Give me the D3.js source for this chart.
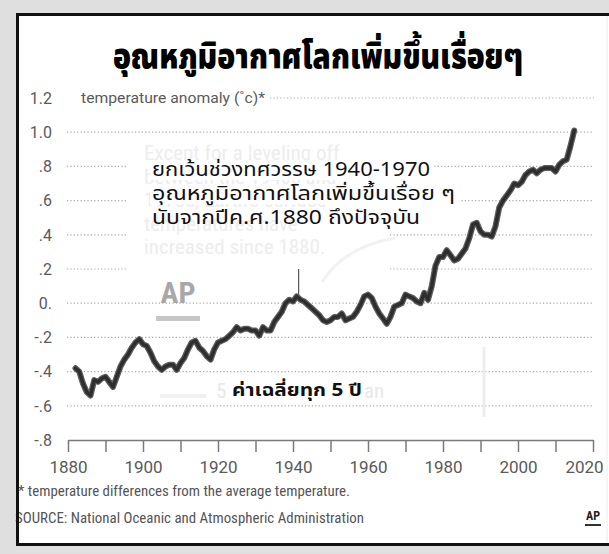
<!DOCTYPE html>
<html>
<head>
<meta charset="utf-8">
<script src="https://cdn.jsdelivr.net/npm/d3@7"></script>
<style>
  body { margin: 0; background: #dfdfdf; }
  svg { display: block; }
</style>
</head>
<body>
<div id="chart"></div>
<script>
// 5-year mean global temperature anomaly, one value per year from 1882
const startYear = 1882;
const anomaly = [
  -0.38, -0.40, -0.47, -0.52, -0.54, -0.45, -0.46, -0.44, -0.43, -0.46,
  -0.49, -0.43, -0.37, -0.33, -0.30, -0.26, -0.23, -0.21, -0.24, -0.25,
  -0.29, -0.34, -0.37, -0.39, -0.37, -0.36, -0.36, -0.39, -0.35, -0.32,
  -0.27, -0.23, -0.22, -0.26, -0.28, -0.31, -0.33, -0.27, -0.23, -0.22,
  -0.21, -0.19, -0.17, -0.14, -0.16, -0.15, -0.15, -0.16, -0.16, -0.19,
  -0.14, -0.16, -0.16, -0.11, -0.08, -0.05, 0.00, 0.02, 0.01, 0.04,
  0.02, 0.01, -0.01, -0.03, -0.05, -0.07, -0.10, -0.11, -0.10, -0.08,
  -0.08, -0.06, -0.10, -0.09, -0.08, -0.05, -0.01, 0.04, 0.05, 0.03,
  -0.02, -0.06, -0.09, -0.12, -0.08, -0.02, -0.01, 0.00, 0.05, 0.04,
  0.03, 0.01, 0.00, 0.06, 0.02, 0.10, 0.22, 0.27, 0.27, 0.31,
  0.28, 0.25, 0.26, 0.29, 0.32, 0.38, 0.46, 0.47, 0.42, 0.40,
  0.40, 0.39, 0.45, 0.56, 0.60, 0.63, 0.66, 0.70, 0.69, 0.71,
  0.75, 0.77, 0.78, 0.76, 0.78, 0.79, 0.79, 0.79, 0.77, 0.81,
  0.83, 0.84, 0.92, 1.01
];
const years = anomaly.map((d, i) => startYear + i);

const yTicks = [1.2, 1.0, 0.8, 0.6, 0.4, 0.2, 0, -0.2, -0.4, -0.6, -0.8];
const yTickLabels = ["1.2", "1.0", ".8", ".6", ".4", ".2", "0.", "-.2", "-.4", "-.6", "-.8"];
const xTicks = [1880, 1890, 1900, 1910, 1920, 1930, 1940, 1950, 1960, 1970, 1980, 1990, 2000, 2010, 2020];
const xTickLabels = ["1880", "", "1900", "", "1920", "", "1940", "", "1960", "", "1980", "", "2000", "", "2020"];

const titleText = "อุณหภูมิอากาศโลกเพิ่มขึ้นเรื่อยๆ";
const noteLines = ["ยกเว้นช่วงทศวรรษ 1940-1970", "อุณหภูมิอากาศโลกเพิ่มขึ้นเรื่อย ๆ", "นับจากปีค.ศ.1880 ถึงปัจจุบัน"];
const meanLabel = "ค่าเฉลี่ยทุก 5 ปี";
const ghostLines = ["Except for a leveling off", "between the 1940s and", "1970s, Earth's surface", "temperatures have", "increased since 1880."];
const unitLabel = "temperature anomaly (˚c)*";
const footnote = "* temperature differences from the average temperature.";
const source = "SOURCE: National Oceanic and Atmospheric Administration";
const peakYear = 1941.5;

const W = 609, H = 554;
const thai = "'Noto Sans Thai', 'Noto Sans Thai UI', Loma, Garuda, 'Tlwg Typo', Waree, Norasi, sans-serif";
const narrow = "'Liberation Sans Narrow', 'Roboto Condensed', 'Arial Narrow', Roboto, sans-serif";

const svg = d3.select("#chart").append("svg")
  .attr("width", W)
  .attr("height", H);

// page + frame
svg.append("rect").attr("width", W).attr("height", H).attr("fill", "#dfdfdf");
svg.append("rect").attr("x", 16).attr("y", 13).attr("width", W - 16).attr("height", 533).attr("fill", "#fff");
svg.append("path")
  .attr("d", "M612,14.5 H17.5 V544.5 H612")
  .attr("fill", "none").attr("stroke", "#111").attr("stroke-width", 3);
svg.append("line").attr("x1", 607).attr("x2", 607).attr("y1", 16).attr("y2", 543)
  .attr("stroke", "#ececec");

const x = d3.scaleLinear().domain([1880, 2020]).range([68, 593]);
const y = d3.scaleLinear().domain([-0.8, 1.2]).range([440, 98]);

// dotted grid
svg.append("g").selectAll("line")
  .data(yTicks.filter(d => d > -0.8))
  .join("line")
  .attr("x1", d => d === 1.2 ? 270 : 67)
  .attr("x2", 594)
  .attr("y1", d => y(d))
  .attr("y2", d => y(d))
  .attr("stroke", "#a9a9a9")
  .attr("stroke-width", 1.2)
  .attr("stroke-dasharray", "1.2,2.2");

// white box of the original (faded) AP note
svg.append("rect").attr("x", 126).attr("y", 148).attr("width", 263).attr("height", 135).attr("fill", "#fff");

// faded english text underneath
svg.append("g").selectAll("text")
  .data(ghostLines)
  .join("text")
  .attr("x", 144)
  .attr("y", (d, i) => 160 + i * 23.5)
  .attr("font-family", narrow)
  .attr("font-size", 21)
  .attr("fill", "#ededed")
  .text(d => d);

svg.append("path")
  .attr("d", "M396,238 Q345,246 322,282")
  .attr("fill", "none").attr("stroke", "#f2f2f2").attr("stroke-width", 3);

// faded AP logo
svg.append("text")
  .attr("x", 178).attr("y", 303)
  .attr("text-anchor", "middle")
  .attr("font-family", narrow)
  .attr("font-weight", 700)
  .attr("font-size", 30)
  .attr("fill", "#a8a8a8")
  .text("AP");
svg.append("rect").attr("x", 156).attr("y", 316).attr("width", 44).attr("height", 5).attr("fill", "#c6c6c6");

// faded "5-year mean" remnants
svg.append("rect").attr("x", 160).attr("y", 394).attr("width", 46).attr("height", 4).attr("fill", "#f0f0f0");
svg.append("text").attr("x", 216).attr("y", 398)
  .attr("font-family", narrow).attr("font-size", 21).attr("fill", "#e8e8e8").text("5");
svg.append("text").attr("x", 364).attr("y", 398)
  .attr("font-family", narrow).attr("font-size", 21).attr("fill", "#e8e8e8").text("an");
svg.append("line").attr("x1", 484).attr("x2", 484).attr("y1", 347).attr("y2", 417)
  .attr("stroke", "#ededed").attr("stroke-width", 3);

// y labels
svg.append("g").selectAll("text")
  .data(yTicks)
  .join("text")
  .attr("x", 52)
  .attr("y", d => y(d))
  .attr("dy", "0.36em")
  .attr("text-anchor", "end")
  .attr("font-family", "Roboto, sans-serif")
  .attr("font-size", 16)
  .attr("fill", "#5a5a5a")
  .text((d, i) => yTickLabels[i]);

svg.append("text")
  .attr("x", 81).attr("y", y(1.2)).attr("dy", "0.36em")
  .attr("font-family", "Roboto, sans-serif")
  .attr("font-size", 15)
  .attr("fill", "#5a5a5a")
  .attr("textLength", 184).attr("lengthAdjust", "spacingAndGlyphs")
  .text(unitLabel);

// x axis
const xAxis = svg.append("g")
  .attr("transform", `translate(0,${y(-0.8)})`)
  .call(d3.axisBottom(x)
    .tickValues(xTicks)
    .tickSize(12)
    .tickSizeOuter(0)
    .tickPadding(9)
    .tickFormat((d, i) => xTickLabels[i]));
xAxis.select(".domain").attr("stroke", "#7a7a7a").attr("stroke-width", 1.5);
xAxis.selectAll(".tick line").attr("stroke", "#7a7a7a").attr("stroke-width", 1.5);
xAxis.selectAll(".tick text")
  .attr("font-family", "Roboto, sans-serif")
  .attr("font-size", 17)
  .attr("fill", "#5a5a5a")
  .attr("dx", d => d === 2020 ? -9 : 0);

// thai annotation
const noteLen = [278, 303, 268];
svg.append("g").selectAll("rect")
  .data(noteLines.slice(0, 2))
  .join("rect")
  .attr("x", 150)
  .attr("y", (d, i) => 160 + i * 24)
  .attr("width", (d, i) => noteLen[i] + 6)
  .attr("height", 20)
  .attr("fill", "#fff");
svg.append("g").selectAll("text")
  .data(noteLines)
  .join("text")
  .attr("x", 152)
  .attr("y", (d, i) => 176 + i * 24)
  .attr("font-family", thai)
  .attr("font-size", 19)
  .attr("fill", "#111")
  .attr("textLength", (d, i) => noteLen[i])
  .attr("lengthAdjust", "spacingAndGlyphs")
  .text(d => d);

// data line
const line = d3.line()
  .x((d, i) => x(years[i]))
  .y(d => y(d))
  .curve(d3.curveLinear);

svg.append("path")
  .datum(anomaly)
  .attr("fill", "none")
  .attr("stroke", "#5e5e5e")
  .attr("stroke-width", 6)
  .attr("stroke-linejoin", "round")
  .attr("stroke-linecap", "round")
  .attr("d", line);
svg.append("path")
  .datum(anomaly)
  .attr("fill", "none")
  .attr("stroke", "#2e2e2e")
  .attr("stroke-width", 3.5)
  .attr("stroke-linejoin", "round")
  .attr("stroke-linecap", "round")
  .attr("d", line);

// leader line to the 1940s peak
svg.append("line")
  .attr("x1", x(peakYear)).attr("x2", x(peakYear))
  .attr("y1", y(0.2)).attr("y2", y(0.04))
  .attr("stroke", "#555").attr("stroke-width", 1.2);

svg.append("text")
  .attr("x", 232).attr("y", 396)
  .attr("font-family", thai)
  .attr("font-weight", 700)
  .attr("font-size", 17)
  .attr("fill", "#111")
  .attr("textLength", 130).attr("lengthAdjust", "spacingAndGlyphs")
  .text(meanLabel);

// title
svg.append("text")
  .attr("x", 113).attr("y", 68)
  .attr("font-family", thai)
  .attr("font-weight", 900)
  .attr("font-size", 35)
  .attr("fill", "#000")
  .attr("textLength", 410).attr("lengthAdjust", "spacingAndGlyphs")
  .text(titleText);

// footer
svg.append("text")
  .attr("x", 18).attr("y", 496)
  .attr("font-family", narrow)
  .attr("font-size", 14)
  .attr("fill", "#555")
  .attr("textLength", 332).attr("lengthAdjust", "spacingAndGlyphs")
  .text(footnote);
svg.append("text")
  .attr("x", 15).attr("y", 523)
  .attr("font-family", narrow)
  .attr("font-size", 14)
  .attr("fill", "#555")
  .attr("textLength", 349).attr("lengthAdjust", "spacingAndGlyphs")
  .text(source);
// re-draw left border over the clipped footer start
svg.append("line").attr("x1", 17.5).attr("x2", 17.5).attr("y1", 13).attr("y2", 546)
  .attr("stroke", "#111").attr("stroke-width", 3);

svg.append("text")
  .attr("x", 593).attr("y", 520)
  .attr("text-anchor", "middle")
  .attr("font-family", narrow)
  .attr("font-weight", 700)
  .attr("font-size", 12)
  .attr("fill", "#222")
  .text("AP");
svg.append("rect").attr("x", 585).attr("y", 524).attr("width", 16).attr("height", 2).attr("fill", "#333");
</script>
</body>
</html>
